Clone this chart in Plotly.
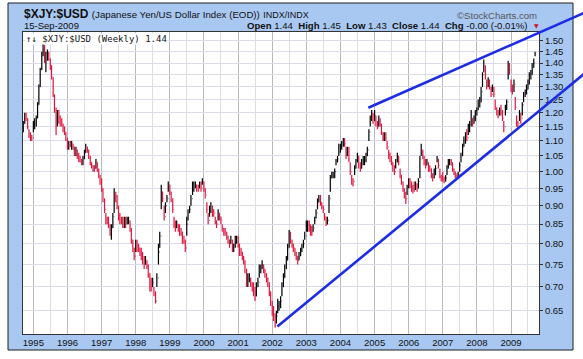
import numpy as np
import pandas as pd
import plotly.graph_objects as go

# ---------------- data: semi-monthly bars, 15-Sep-1994 .. 15-Sep-2009 ----------------
low = [
    1.13, 1.16, 1.17, 1.14, 1.11, 1.10, 1.10,  # 1994
    1.13, 1.14, 1.15, 1.18, 1.23, 1.30, 1.37, 1.43, 1.40, 1.36, 1.41, 1.41, 1.37, 1.33, 1.26, 1.20, 1.12, 1.15, 1.16, 1.15, 1.15, 1.13, 1.12, 1.10,  # 1995
    1.07, 1.07, 1.08, 1.07, 1.07, 1.05, 1.05, 1.04, 1.03, 1.03, 1.02, 1.02, 1.04, 1.06, 1.06, 1.04, 1.02, 1.01, 1.00, 1.00, 1.01, 1.00, 0.98, 0.96,  # 1996
    0.94, 0.91, 0.88, 0.85, 0.85, 0.84, 0.82, 0.81, 0.84, 0.88, 0.91, 0.89, 0.86, 0.85, 0.85, 0.84, 0.84, 0.84, 0.85, 0.85, 0.83, 0.80, 0.78, 0.76,  # 1997
    0.78, 0.78, 0.78, 0.77, 0.76, 0.75, 0.74, 0.75, 0.74, 0.72, 0.69, 0.69, 0.70, 0.68, 0.665, 0.70, 0.75, 0.79, 0.89, 0.91, 0.86, 0.88, 0.91, 0.94,  # 1998
    0.93, 0.91, 0.88, 0.84, 0.83, 0.84, 0.83, 0.82, 0.82, 0.80, 0.80, 0.78, 0.82, 0.86, 0.88, 0.90, 0.93, 0.94, 0.95, 0.94, 0.94, 0.95, 0.94, 0.96,  # 1999
    0.94, 0.92, 0.88, 0.85, 0.87, 0.88, 0.87, 0.87, 0.85, 0.84, 0.86, 0.86, 0.85, 0.83, 0.82, 0.82, 0.81, 0.80, 0.79, 0.80, 0.78, 0.78, 0.79, 0.80,  # 2000
    0.79, 0.77, 0.77, 0.76, 0.75, 0.73, 0.70, 0.70, 0.71, 0.70, 0.69, 0.68, 0.67, 0.68, 0.70, 0.72, 0.73, 0.74, 0.73, 0.72, 0.71, 0.70, 0.68, 0.66,  # 2001
    0.64, 0.63, 0.617, 0.625, 0.645, 0.65, 0.655, 0.68, 0.70, 0.72, 0.74, 0.76, 0.79, 0.80, 0.79, 0.78, 0.77, 0.76, 0.75, 0.76, 0.77, 0.78, 0.79, 0.81,  # 2002
    0.83, 0.83, 0.83, 0.82, 0.82, 0.83, 0.85, 0.865, 0.89, 0.91, 0.90, 0.89, 0.88, 0.86, 0.845, 0.85, 0.88, 0.94, 0.98, 0.98, 0.98, 1.02, 1.03, 1.05,  # 2003
    1.06, 1.07, 1.08, 1.08, 1.04, 1.05, 1.03, 0.99, 0.96, 0.955, 0.99, 1.01, 1.03, 1.01, 1.00, 1.01, 1.02, 1.02, 1.03, 1.05, 1.10, 1.15, 1.17, 1.16,  # 2004
    1.17, 1.15, 1.14, 1.15, 1.15, 1.12, 1.10, 1.10, 1.10, 1.07, 1.04, 1.03, 1.02, 1.00, 0.99, 1.01, 1.03, 1.02, 0.98, 0.96, 0.94, 0.92, 0.905, 0.93,  # 2005
    0.95, 0.95, 0.94, 0.935, 0.94, 0.945, 0.94, 0.95, 0.98, 1.05, 1.04, 1.02, 1.01, 1.02, 1.00, 1.00, 0.98, 0.97, 0.98, 0.99, 1.03, 1.01, 0.98, 0.97,  # 2006
    0.97, 0.965, 0.97, 0.99, 1.01, 1.02, 1.02, 1.00, 0.99, 0.98, 0.98, 0.98, 1.00, 1.03, 1.05, 1.08, 1.09, 1.10, 1.12, 1.13, 1.15, 1.15, 1.16, 1.17,  # 2007
    1.19, 1.21, 1.22, 1.24, 1.30, 1.36, 1.33, 1.29, 1.30, 1.29, 1.26, 1.28, 1.26, 1.21, 1.19, 1.18, 1.19, 1.19, 1.17, 1.13, 1.19, 1.21, 1.33, 1.35,  # 2008
    1.28, 1.27, 1.28, 1.21, 1.15, 1.14, 1.17, 1.16, 1.19, 1.24, 1.26, 1.27, 1.29, 1.31, 1.33, 1.35, 1.38, 1.43,  # 2009
]
high = [
    1.17, 1.20, 1.20, 1.18, 1.14, 1.13, 1.12,  # 1994
    1.17, 1.18, 1.19, 1.24, 1.31, 1.38, 1.45, 1.49, 1.48, 1.45, 1.46, 1.45, 1.42, 1.39, 1.34, 1.27, 1.22, 1.21, 1.21, 1.19, 1.18, 1.16, 1.15, 1.13,  # 1995
    1.11, 1.10, 1.10, 1.10, 1.09, 1.08, 1.08, 1.07, 1.06, 1.05, 1.04, 1.05, 1.07, 1.09, 1.08, 1.07, 1.05, 1.03, 1.02, 1.02, 1.04, 1.03, 1.01, 0.99,  # 1996
    0.98, 0.95, 0.92, 0.88, 0.87, 0.87, 0.85, 0.85, 0.88, 0.95, 0.94, 0.93, 0.90, 0.88, 0.87, 0.87, 0.87, 0.87, 0.87, 0.87, 0.86, 0.84, 0.81, 0.79,  # 1997
    0.81, 0.81, 0.80, 0.79, 0.79, 0.78, 0.77, 0.77, 0.76, 0.75, 0.73, 0.72, 0.72, 0.70, 0.69, 0.73, 0.80, 0.83, 0.96, 0.94, 0.90, 0.91, 0.93, 0.97,  # 1998
    0.96, 0.94, 0.92, 0.87, 0.86, 0.86, 0.85, 0.85, 0.84, 0.83, 0.82, 0.81, 0.87, 0.89, 0.90, 0.93, 0.97, 0.97, 0.97, 0.96, 0.96, 0.97, 0.97, 0.98,  # 1999
    0.97, 0.95, 0.91, 0.88, 0.90, 0.91, 0.90, 0.89, 0.87, 0.86, 0.89, 0.88, 0.87, 0.85, 0.84, 0.84, 0.83, 0.82, 0.81, 0.82, 0.81, 0.80, 0.82, 0.82,  # 2000
    0.82, 0.80, 0.79, 0.78, 0.77, 0.76, 0.74, 0.73, 0.73, 0.72, 0.71, 0.71, 0.70, 0.71, 0.72, 0.75, 0.75, 0.76, 0.75, 0.74, 0.73, 0.72, 0.71, 0.69,  # 2001
    0.67, 0.66, 0.645, 0.65, 0.675, 0.67, 0.68, 0.71, 0.73, 0.75, 0.77, 0.80, 0.835, 0.83, 0.81, 0.80, 0.79, 0.78, 0.77, 0.78, 0.79, 0.80, 0.81, 0.83,  # 2002
    0.86, 0.86, 0.86, 0.85, 0.845, 0.85, 0.87, 0.89, 0.92, 0.93, 0.93, 0.91, 0.90, 0.88, 0.87, 0.87, 0.93, 0.99, 1.00, 1.00, 1.01, 1.04, 1.05, 1.09,  # 2003
    1.09, 1.10, 1.11, 1.11, 1.08, 1.08, 1.08, 1.03, 0.99, 0.98, 1.02, 1.04, 1.06, 1.05, 1.03, 1.04, 1.05, 1.05, 1.06, 1.08, 1.14, 1.19, 1.21, 1.20,  # 2004
    1.21, 1.19, 1.17, 1.19, 1.18, 1.16, 1.13, 1.13, 1.13, 1.10, 1.07, 1.06, 1.05, 1.03, 1.02, 1.04, 1.06, 1.05, 1.01, 0.99, 0.97, 0.95, 0.94, 0.96,  # 2005
    0.98, 0.98, 0.97, 0.96, 0.97, 0.97, 0.965, 0.98, 1.05, 1.09, 1.07, 1.05, 1.04, 1.04, 1.03, 1.02, 1.01, 0.995, 1.01, 1.02, 1.05, 1.04, 1.01, 0.99,  # 2006
    1.00, 0.985, 0.99, 1.02, 1.04, 1.04, 1.04, 1.03, 1.01, 1.00, 0.995, 1.00, 1.03, 1.06, 1.09, 1.115, 1.13, 1.14, 1.16, 1.17, 1.21, 1.18, 1.19, 1.21,  # 2007
    1.22, 1.25, 1.26, 1.30, 1.36, 1.415, 1.39, 1.33, 1.34, 1.33, 1.30, 1.31, 1.30, 1.25, 1.22, 1.21, 1.22, 1.23, 1.21, 1.17, 1.23, 1.25, 1.41, 1.40,  # 2008
    1.33, 1.31, 1.33, 1.26, 1.19, 1.17, 1.21, 1.20, 1.24, 1.28, 1.29, 1.31, 1.33, 1.36, 1.37, 1.40, 1.42, 1.45,  # 2009
]
close = [
    1.16, 1.19, 1.18, 1.15, 1.12, 1.11, 1.11,  # 1994
    1.15, 1.16, 1.18, 1.23, 1.30, 1.37, 1.44, 1.47, 1.42, 1.43, 1.44, 1.42, 1.38, 1.34, 1.27, 1.21, 1.17, 1.19, 1.18, 1.17, 1.16, 1.14, 1.13, 1.11,  # 1995
    1.08, 1.09, 1.08, 1.09, 1.08, 1.06, 1.07, 1.05, 1.04, 1.03, 1.03, 1.04, 1.06, 1.08, 1.07, 1.05, 1.03, 1.02, 1.01, 1.01, 1.03, 1.00, 0.99, 0.97,  # 1996
    0.95, 0.92, 0.89, 0.86, 0.86, 0.85, 0.83, 0.84, 0.87, 0.93, 0.92, 0.90, 0.87, 0.86, 0.86, 0.85, 0.86, 0.85, 0.86, 0.86, 0.84, 0.81, 0.79, 0.77,  # 1997
    0.80, 0.79, 0.79, 0.78, 0.77, 0.76, 0.75, 0.76, 0.75, 0.73, 0.70, 0.70, 0.71, 0.69, 0.67, 0.72, 0.78, 0.82, 0.94, 0.92, 0.87, 0.90, 0.92, 0.96,  # 1998
    0.94, 0.92, 0.89, 0.85, 0.84, 0.85, 0.84, 0.83, 0.83, 0.81, 0.81, 0.79, 0.85, 0.88, 0.89, 0.92, 0.96, 0.96, 0.96, 0.95, 0.95, 0.96, 0.95, 0.97,  # 1999
    0.95, 0.93, 0.89, 0.86, 0.89, 0.90, 0.88, 0.88, 0.86, 0.85, 0.88, 0.87, 0.86, 0.84, 0.83, 0.83, 0.82, 0.81, 0.80, 0.81, 0.79, 0.80, 0.81, 0.81,  # 2000
    0.80, 0.78, 0.78, 0.77, 0.76, 0.74, 0.71, 0.72, 0.72, 0.71, 0.70, 0.69, 0.68, 0.70, 0.71, 0.74, 0.74, 0.75, 0.74, 0.73, 0.72, 0.71, 0.69, 0.67,  # 2001
    0.65, 0.64, 0.63, 0.64, 0.66, 0.66, 0.67, 0.70, 0.72, 0.74, 0.76, 0.79, 0.82, 0.81, 0.80, 0.79, 0.78, 0.77, 0.76, 0.77, 0.78, 0.79, 0.80, 0.82,  # 2002
    0.84, 0.85, 0.84, 0.83, 0.83, 0.84, 0.86, 0.88, 0.91, 0.92, 0.91, 0.90, 0.89, 0.87, 0.85, 0.86, 0.92, 0.98, 0.99, 0.99, 1.00, 1.03, 1.04, 1.08,  # 2003
    1.08, 1.09, 1.10, 1.09, 1.05, 1.07, 1.04, 1.00, 0.97, 0.97, 1.01, 1.03, 1.05, 1.02, 1.01, 1.03, 1.03, 1.04, 1.05, 1.07, 1.13, 1.18, 1.19, 1.17,  # 2004
    1.19, 1.16, 1.15, 1.17, 1.16, 1.13, 1.11, 1.12, 1.11, 1.08, 1.05, 1.04, 1.03, 1.01, 1.00, 1.03, 1.05, 1.03, 0.99, 0.97, 0.95, 0.93, 0.92, 0.95,  # 2005
    0.97, 0.96, 0.95, 0.95, 0.95, 0.96, 0.95, 0.97, 1.04, 1.07, 1.05, 1.03, 1.02, 1.03, 1.01, 1.01, 0.99, 0.98, 0.99, 1.01, 1.04, 1.02, 0.99, 0.98,  # 2006
    0.98, 0.97, 0.98, 1.01, 1.03, 1.03, 1.02, 1.01, 1.00, 0.99, 0.985, 0.99, 1.02, 1.05, 1.08, 1.10, 1.12, 1.11, 1.14, 1.16, 1.18, 1.16, 1.17, 1.20,  # 2007
    1.21, 1.23, 1.24, 1.28, 1.35, 1.38, 1.35, 1.31, 1.32, 1.30, 1.27, 1.30, 1.27, 1.22, 1.20, 1.19, 1.21, 1.20, 1.18, 1.15, 1.22, 1.24, 1.39, 1.37,  # 2008
    1.30, 1.29, 1.31, 1.22, 1.16, 1.16, 1.19, 1.18, 1.23, 1.27, 1.28, 1.29, 1.31, 1.34, 1.35, 1.38, 1.40, 1.44,  # 2009
]

dates = pd.date_range("1994-09-15", periods=len(close), freq="SMS")
open_ = [close[0]] + close[:-1]   # each bar opens at the previous close

y_tick_values = [0.65, 0.70, 0.75, 0.80, 0.85, 0.90, 0.95, 1.00, 1.05, 1.10,
                 1.15, 1.20, 1.25, 1.30, 1.35, 1.40, 1.45, 1.50]
y_tick_labels = [f"{v:.2f}" for v in y_tick_values]
year_labels = [str(y) for y in range(1995, 2010)]

x_range = ["1994-09-12", "2009-10-27"]
y_min, y_max = 0.605, 1.541

# trend lines: two anchor points each (date, value); extended to the right edge
trend_lines = [
    [("2002-02-25", 0.619), ("2007-06-16", 0.982)],
    [("2004-10-26", 1.219), ("2008-03-07", 1.425)],
]

# ---------------- figure ----------------
W, H = 583, 359
ML, MR, MT, MB = 23, 44, 32, 25
PW, PH = W - ML - MR, H - MT - MB

def px_x(px):
    return (px - ML) / PW

def px_y(py):
    return (H - MB - py) / PH

fig = go.Figure()
fig.add_trace(go.Ohlc(
    x=dates, open=open_, high=high, low=low, close=close,
    increasing=dict(line=dict(color="#000000", width=1.2)),
    decreasing=dict(line=dict(color="#e0163f", width=1.2)),
    tickwidth=0.3, showlegend=False, hoverinfo="skip",
))

font_family = "Liberation Sans, Arial, sans-serif"
grid_col = "#dcdce8"

fig.update_layout(
    width=W, height=H,
    margin=dict(l=ML, r=MR, t=MT, b=MB, pad=0),
    paper_bgcolor="#ffffff", plot_bgcolor="#ffffff",
    font=dict(family=font_family, size=9.5, color="#111111"),
    showlegend=False,
    xaxis=dict(
        type="date", range=x_range, rangeslider=dict(visible=False),
        tickvals=[f"{y}-01-01" for y in year_labels], ticktext=year_labels,
        showgrid=True, gridcolor="#b9b9c6", gridwidth=1,
        minor=dict(dtick="M6", tick0="1995-01-01", showgrid=True, gridcolor=grid_col, ticks=""),
        ticks="", showline=True, linecolor="#333333", linewidth=1, mirror=True,
        tickfont=dict(size=9.5, color="#111111"), zeroline=False, fixedrange=True,
    ),
    yaxis=dict(
        type="log", side="right",
        range=[np.log10(y_min), np.log10(y_max)],
        tickvals=y_tick_values, ticktext=y_tick_labels,
        showgrid=True, gridcolor=grid_col, gridwidth=1,
        ticks="outside", ticklen=3, tickcolor="#333333",
        showline=True, linecolor="#333333", linewidth=1, mirror=True,
        tickfont=dict(size=9.5, color="#111111"), zeroline=False, fixedrange=True,
    ),
)

shapes = [
    # blue outer frame
    dict(type="rect", xref="paper", yref="paper",
         x0=px_x(8), x1=px_x(573), y0=px_y(350), y1=px_y(3),
         fillcolor="#a8c8f2", line=dict(color="#1e1e1e", width=1), layer="below"),
    # white plot area
    dict(type="rect", xref="paper", yref="paper", x0=0, x1=1, y0=0, y1=1,
         fillcolor="#ffffff", line=dict(width=0), layer="below"),
]

t0 = pd.Timestamp(x_range[0]).value
t1 = pd.Timestamp(x_range[1]).value
ly0, ly1 = np.log10(y_min), np.log10(y_max)

def dom_x(d):
    return (pd.Timestamp(d).value - t0) / (t1 - t0)

def dom_y(v):
    return (np.log10(v) - ly0) / (ly1 - ly0)

for (d1, v1), (d2, v2) in trend_lines:
    xa, ya = dom_x(d1), dom_y(v1)
    xb, yb = dom_x(d2), dom_y(v2)
    xe = px_x(W + 10)
    ye = ya + (yb - ya) * (xe - xa) / (xb - xa)
    shapes.append(dict(type="line", xref="paper", yref="paper",
                       x0=xa, y0=ya, x1=xe, y1=ye,
                       line=dict(color="#1d2de6", width=2.6), layer="above"))
fig.update_layout(shapes=shapes)

annotations = [
    dict(text="<b>$XJY:$USD</b> <span style='font-size:9.7px'>(Japanese Yen/US Dollar Index (EOD))</span>"
              " <span style='font-size:9px'>INDX/INDX</span>",
         x=px_x(22), y=px_y(14), xanchor="left", yanchor="middle",
         font=dict(size=12, color="#111111", family=font_family)),
    dict(text="©StockCharts.com", x=px_x(539), y=px_y(15), xanchor="right", yanchor="middle",
         font=dict(size=9.6, color="#555555", family=font_family)),
    dict(text="15-Sep-2009", x=px_x(22), y=px_y(25.5), xanchor="left", yanchor="middle",
         font=dict(size=9.5, color="#111111", family=font_family)),
    dict(text="<b>Open</b> 1.44  <b>High</b> 1.45  <b>Low</b> 1.43  <b>Close</b> 1.44  <b>Chg</b> -0.00 (-0.01%)",
         x=px_x(530), y=px_y(25.5), xanchor="right", yanchor="middle",
         font=dict(size=9.6, color="#111111", family=font_family)),
    dict(text="▼", x=px_x(536), y=px_y(25.5), xanchor="center", yanchor="middle",
         font=dict(size=6, color="#d0102a", family="DejaVu Sans")),
    dict(text="↑↓ $XJY:$USD (Weekly) 1.44", x=px_x(25), y=px_y(38.5),
         xanchor="left", yanchor="middle", bgcolor="#ffffff", borderpad=0,
         font=dict(size=9, color="#111111", family="DejaVu Sans Mono, monospace")),
]
for a in annotations:
    a.update(xref="paper", yref="paper", showarrow=False)
fig.update_layout(annotations=annotations)

fig.write_html(
    "out.html",
    config={"displayModeBar": False, "staticPlot": True},
    post_script="document.body.style.margin='0px';document.body.style.padding='0px';",
)
